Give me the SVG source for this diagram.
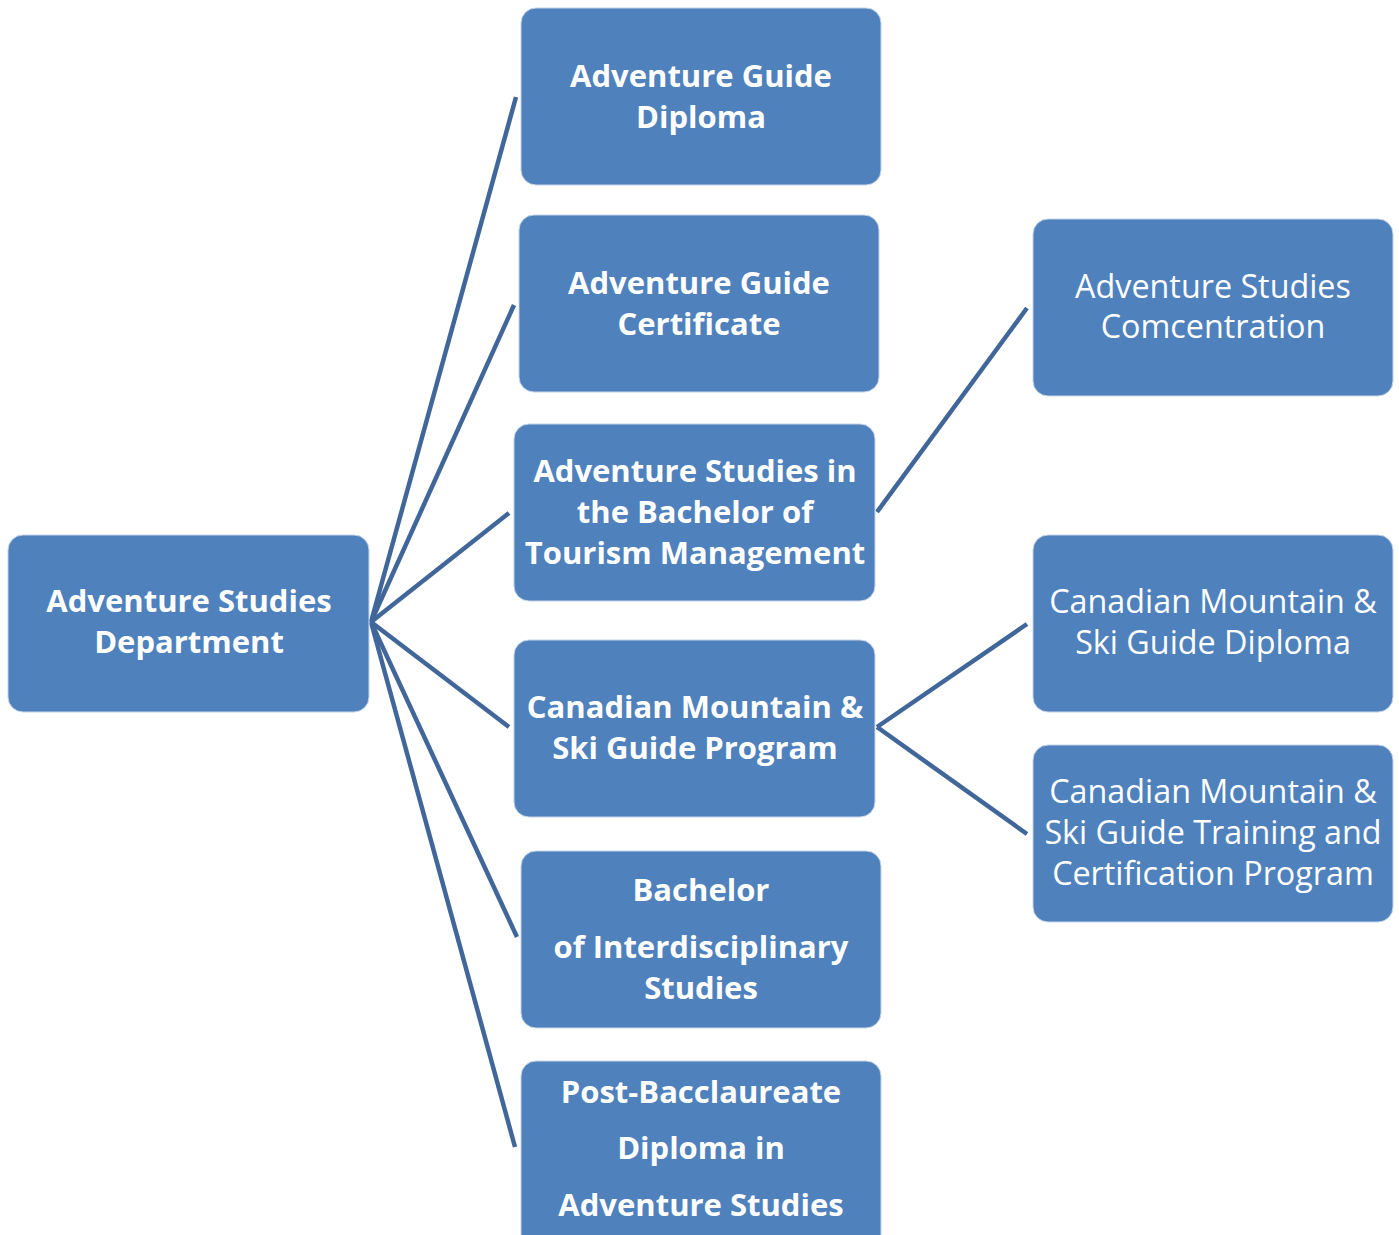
<svg xmlns="http://www.w3.org/2000/svg" width="1399" height="1235" viewBox="0 0 1399 1235">
<style>
.box{fill:#4f81bd;stroke:#c5d4ea;stroke-width:1}
.b{font-family:"Open Sans","Liberation Sans",sans-serif;font-weight:bold;font-size:31px;fill:#fff;text-anchor:middle}
.r{font-family:"Open Sans","Liberation Sans",sans-serif;font-size:32.3px;fill:#fff;text-anchor:middle}
.c{stroke:#41679a;stroke-width:4.5;fill:none}
</style>
<rect width="1399" height="1235" fill="#fff"/>
<g id="connectors">
<line class="c" x1="371" y1="622" x2="516" y2="97"/>
<line class="c" x1="371" y1="622" x2="514" y2="305"/>
<line class="c" x1="371" y1="622" x2="509" y2="513"/>
<line class="c" x1="371" y1="622" x2="509" y2="727"/>
<line class="c" x1="371" y1="622" x2="517" y2="937"/>
<line class="c" x1="371" y1="622" x2="515" y2="1147"/>
<line class="c" x1="877" y1="512" x2="1027" y2="308"/>
<line class="c" x1="877" y1="727" x2="1027" y2="624"/>
<line class="c" x1="877" y1="727" x2="1027" y2="834"/>
</g>
<g id="root">
<rect class="box" x="8" y="535" width="361" height="177" rx="15"/>
<text class="b" x="189" y="612">Adventure Studies</text>
<text class="b" x="189" y="653">Department</text>
</g>
<g id="n1">
<rect class="box" x="521" y="8" width="360" height="177" rx="15"/>
<text class="b" x="701" y="87">Adventure Guide</text>
<text class="b" x="701" y="128">Diploma</text>
</g>
<g id="n2">
<rect class="box" x="519" y="215" width="360" height="177" rx="15"/>
<text class="b" x="699" y="294">Adventure Guide</text>
<text class="b" x="699" y="335">Certificate</text>
</g>
<g id="n3">
<rect class="box" x="514" y="424" width="361" height="177" rx="15"/>
<text class="b" x="695" y="482">Adventure Studies in</text>
<text class="b" x="695" y="523">the Bachelor of</text>
<text class="b" x="695" y="564">Tourism Management</text>
</g>
<g id="n4">
<rect class="box" x="514" y="640" width="361" height="177" rx="15"/>
<text class="b" x="695" y="718">Canadian Mountain &amp;</text>
<text class="b" x="695" y="759">Ski Guide Program</text>
</g>
<g id="n5">
<rect class="box" x="521" y="851" width="360" height="177" rx="15"/>
<text class="b" x="701" y="901">Bachelor</text>
<text class="b" x="701" y="958">of Interdisciplinary</text>
<text class="b" x="701" y="999">Studies</text>
</g>
<g id="n6">
<rect class="box" x="521" y="1061" width="360" height="190" rx="15"/>
<text class="b" x="701" y="1103">Post-Bacclaureate</text>
<text class="b" x="701" y="1159">Diploma in</text>
<text class="b" x="701" y="1216">Adventure Studies</text>
</g>
<g id="n7">
<rect class="box" x="1033" y="219" width="360" height="177" rx="15"/>
<text class="r" x="1213" y="298">Adventure Studies</text>
<text class="r" x="1213" y="338">Comcentration</text>
</g>
<g id="n8">
<rect class="box" x="1033" y="535" width="360" height="177" rx="15"/>
<text class="r" x="1213" y="613">Canadian Mountain &amp;</text>
<text class="r" x="1213" y="654">Ski Guide Diploma</text>
</g>
<g id="n9">
<rect class="box" x="1033" y="745" width="360" height="177" rx="15"/>
<text class="r" x="1213" y="803">Canadian Mountain &amp;</text>
<text class="r" x="1213" y="844">Ski Guide Training and</text>
<text class="r" x="1213" y="885">Certification Program</text>
</g>
</svg>
